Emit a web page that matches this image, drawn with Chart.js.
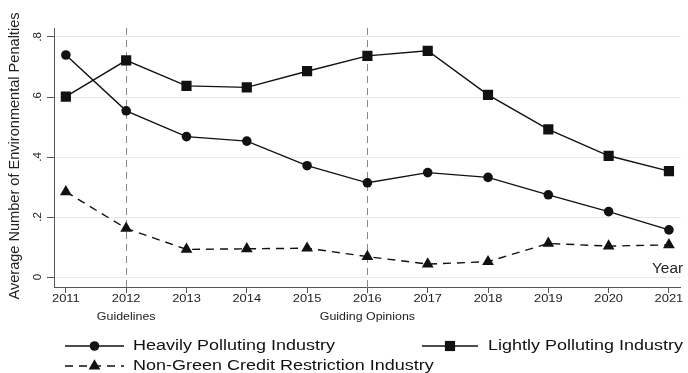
<!DOCTYPE html>
<html>
<head>
<meta charset="utf-8">
<script src="https://cdn.jsdelivr.net/npm/chart.js@4.4.0/dist/chart.umd.min.js"></script>
<style>
  html, body { margin: 0; padding: 0; background: #ffffff; }
  #wrap { width: 688px; height: 373px; }
</style>
</head>
<body>
<div id="wrap"><canvas id="chart" width="688" height="373"></canvas></div>
<script>
// Average number of environmental penalties by industry group, 2011-2021
const years = [2011, 2012, 2013, 2014, 2015, 2016, 2017, 2018, 2019, 2020, 2021];
const heavy = [0.740, 0.554, 0.468, 0.453, 0.371, 0.314, 0.348, 0.332, 0.274, 0.218, 0.157];
const light = [0.601, 0.722, 0.637, 0.632, 0.686, 0.737, 0.754, 0.607, 0.492, 0.404, 0.353];
const nonGreen = [0.284, 0.162, 0.092, 0.094, 0.096, 0.068, 0.043, 0.051, 0.112, 0.103, 0.107];
const yTicks = [0, 0.2, 0.4, 0.6, 0.8];
const yTickLabels = ['0', '.2', '.4', '.6', '.8'];
const policyYears = [2012, 2016];
const policyLabels = ['Guidelines', 'Guiding Opinions'];
const seriesNames = ['Heavily Polluting Industry', 'Lightly Polluting Industry', 'Non-Green Credit Restriction Industry'];

const FONT = '"Liberation Sans", Arial, sans-serif';
const INK = '#111111';

const toXY = vals => vals.map((v, i) => ({ x: years[i], y: v }));

// text drawn with a slight horizontal widening (wide Helvetica look)
function wideText(ctx, text, x, y, sx, align) {
  ctx.save();
  ctx.translate(x, y);
  ctx.scale(sx, 1);
  ctx.textAlign = align;
  ctx.fillText(text, 0, 0);
  ctx.restore();
}

const decorations = {
  id: 'decorations',
  beforeDatasetsDraw(chart) {
    const { ctx, chartArea, scales: { x } } = chart;
    ctx.save();
    ctx.strokeStyle = '#8a8a8a';
    ctx.lineWidth = 1;
    ctx.setLineDash([7, 5]);
    policyYears.forEach(yr => {
      const px = Math.round(x.getPixelForValue(yr)) + 0.5;
      ctx.beginPath();
      ctx.moveTo(px, chartArea.top);
      ctx.lineTo(px, chartArea.bottom);
      ctx.stroke();
    });
    ctx.restore();
  },
  afterDraw(chart) {
    const { ctx, chartArea, scales: { x, y } } = chart;
    ctx.save();
    ctx.fillStyle = '#222222';
    ctx.textBaseline = 'middle';

    // year tick labels
    ctx.font = '11.5px ' + FONT;
    years.forEach(yr => wideText(ctx, String(yr), x.getPixelForValue(yr), chartArea.bottom + 12, 1.12, 'center'));

    // policy annotations below the axis
    policyYears.forEach((yr, i) => wideText(ctx, policyLabels[i], x.getPixelForValue(yr), chartArea.bottom + 30, 1.08, 'center'));

    // rotated y tick labels
    ctx.font = '11.5px ' + FONT;
    ctx.textAlign = 'center';
    yTicks.forEach((v, i) => {
      ctx.save();
      ctx.translate(chartArea.left - 16, y.getPixelForValue(v));
      ctx.rotate(-Math.PI / 2);
      ctx.fillText(yTickLabels[i], 0, 0);
      ctx.restore();
    });

    // y axis title
    ctx.save();
    ctx.font = '14px ' + FONT;
    ctx.translate(15, 156);
    ctx.rotate(-Math.PI / 2);
    wideText(ctx, 'Average Number of Environmental Penalties', 0, 0, 1.04, 'center');
    ctx.restore();

    // x axis title inside the plot
    ctx.font = '14px ' + FONT;
    wideText(ctx, 'Year', 652, chartArea.bottom - 18, 1.1, 'left');

    // legend
    const entries = [
      { name: seriesNames[0], style: 'circle', r: 4.8, dash: [], x0: 65, x1: 124, ty: 346, tx: 133 },
      { name: seriesNames[1], style: 'rect', r: 7.2, dash: [], x0: 422, x1: 478, ty: 346, tx: 488 },
      { name: seriesNames[2], style: 'triangle', r: 6.8, dash: [8, 6], x0: 65, x1: 124, ty: 366, tx: 133 }
    ];
    ctx.font = '15.5px ' + FONT;
    entries.forEach(e => {
      ctx.save();
      ctx.strokeStyle = INK;
      ctx.lineWidth = 1.4;
      ctx.setLineDash(e.dash);
      ctx.beginPath();
      ctx.moveTo(e.x0, e.ty);
      ctx.lineTo(e.x1, e.ty);
      ctx.stroke();
      ctx.setLineDash([]);
      ctx.fillStyle = INK;
      Chart.helpers.drawPoint(ctx, { pointStyle: e.style, radius: e.r, rotation: 0, borderWidth: 0 }, (e.x0 + e.x1) / 2, e.ty);
      ctx.restore();
      ctx.fillStyle = '#111111';
      wideText(ctx, e.name, e.tx, e.ty, 1.16, 'left');
    });
    ctx.restore();
  }
};

const lineStyle = (label, data, style, radius, dash) => ({
  label,
  data: toXY(data),
  borderColor: INK,
  backgroundColor: INK,
  borderWidth: 1.4,
  borderDash: dash,
  pointStyle: style,
  pointRadius: radius,
  pointHoverRadius: radius,
  pointBackgroundColor: INK,
  pointBorderColor: INK,
  pointBorderWidth: 0,
  tension: 0,
  fill: false
});

new Chart(document.getElementById('chart'), {
  type: 'line',
  data: {
    datasets: [
      lineStyle(seriesNames[0], heavy, 'circle', 4.8, []),
      lineStyle(seriesNames[1], light, 'rect', 7.2, []),
      lineStyle(seriesNames[2], nonGreen, 'triangle', 6.8, [8, 6])
    ]
  },
  options: {
    responsive: false,
    animation: false,
    layout: { padding: { left: 0, right: 0, top: 28, bottom: 0 } },
    plugins: { legend: { display: false }, tooltip: { enabled: false } },
    scales: {
      x: {
        type: 'linear',
        min: 2011 - 12 / 61,
        max: 2021 + 12 / 61,
        afterBuildTicks: s => { s.ticks = years.map(v => ({ value: v })); },
        afterFit: s => { s.height = 86; },
        ticks: { display: false },
        grid: { drawOnChartArea: false, drawTicks: true, tickLength: 6, tickColor: '#555555' },
        border: { display: true, color: '#555555', width: 1 }
      },
      y: {
        type: 'linear',
        min: -10 / 300,
        max: 249 / 300,
        afterBuildTicks: s => { s.ticks = yTicks.map(v => ({ value: v })); },
        afterFit: s => { s.width = 54; },
        ticks: { display: false },
        grid: { color: '#e8e8e8', lineWidth: 1, drawTicks: true, tickLength: 7, tickColor: '#555555' },
        border: { display: true, color: '#555555', width: 1 }
      }
    }
  },
  plugins: [decorations]
});
</script>
</body>
</html>
